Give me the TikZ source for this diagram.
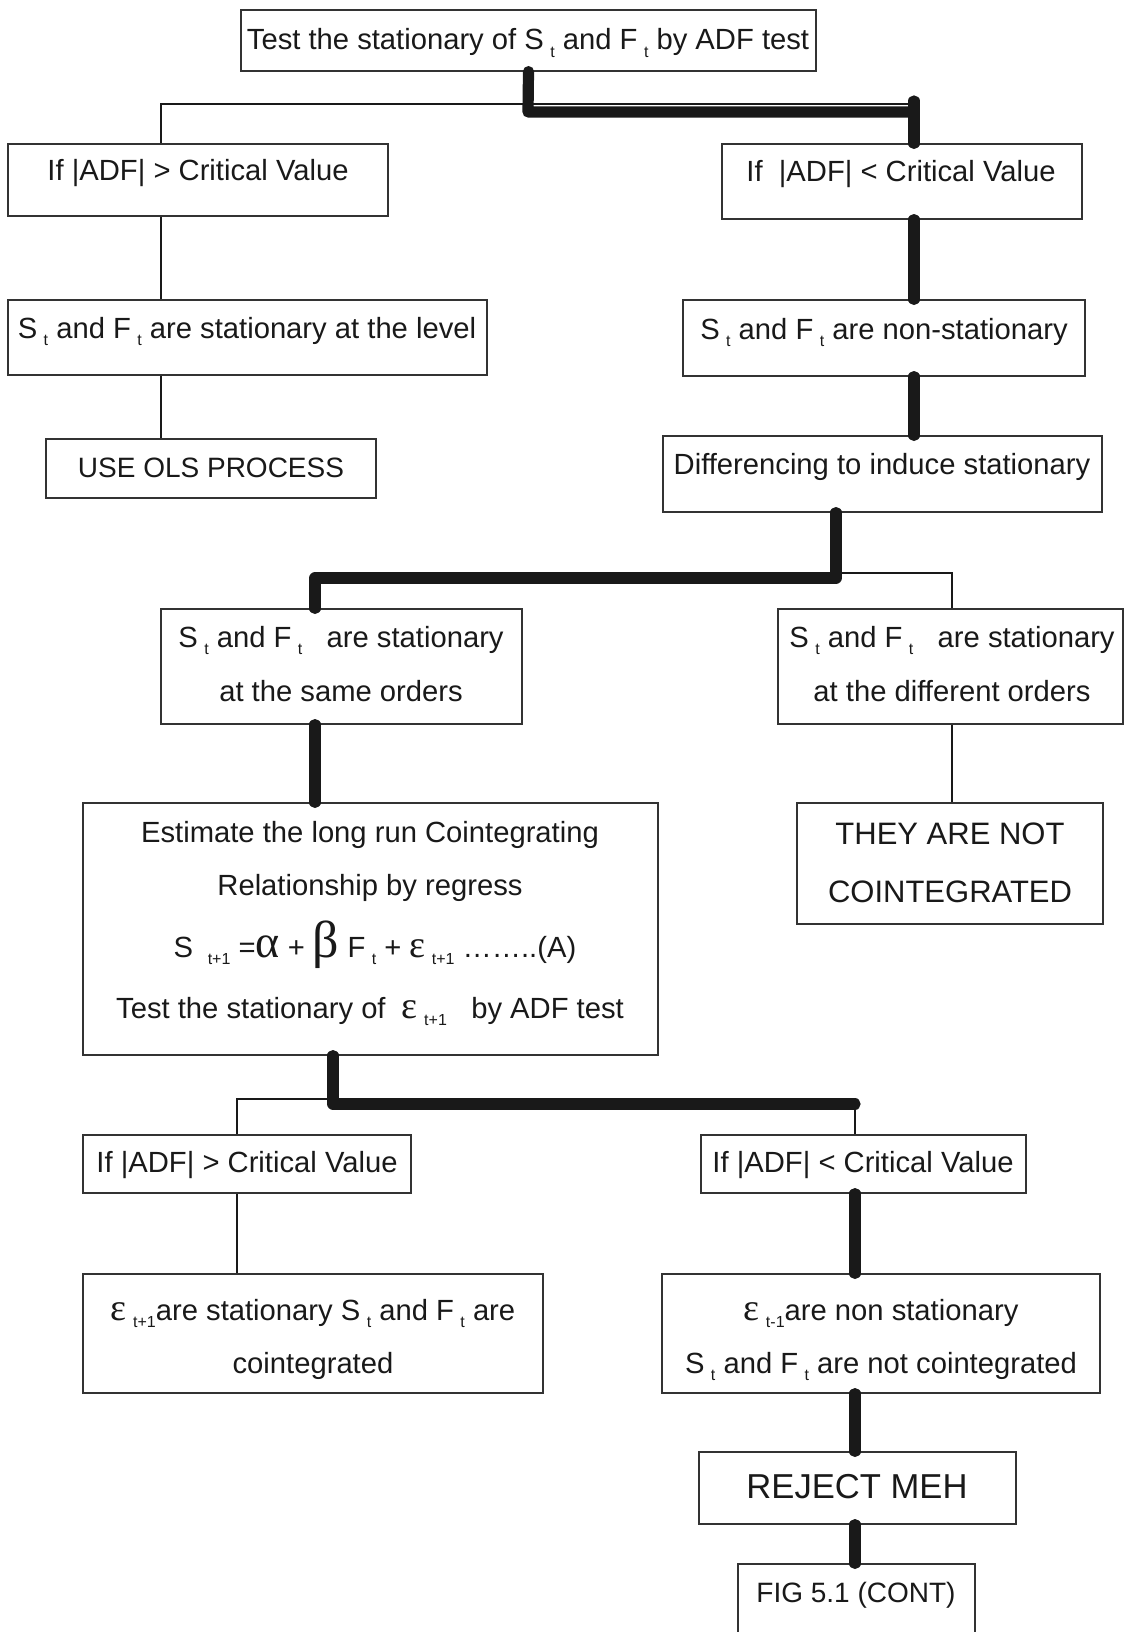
\documentclass[tikz,border=0pt]{standalone}
\usepackage{fontspec}
\setmainfont{Liberation Sans}
\newfontfamily\grk{Liberation Serif}
\usetikzlibrary{fit}
\newcommand\lowt[1]{\hspace{0.22em}\raisebox{-0.5ex}{\fontsize{8}{9}\selectfont #1}}
\newcommand\fsn{\fontsize{14.6}{17}\selectfont}
\tikzset{
  boxst/.style={draw=black!80, line width=0.6pt, inner sep=0pt, rectangle},
  txt/.style={anchor=base, inner sep=0pt, font=\fsn, text=black!90},
  thinline/.style={line width=1pt, draw=black!90},
  thickline/.style={line width=5.6pt, line cap=round, line join=round, draw=black!90}
}
\begin{document}
\begin{tikzpicture}[x=0.5pt,y=-0.5pt]
\fill[white] (0,0) rectangle (1125,1632);
\useasboundingbox (0,0) rectangle (1125,1632);

% boxes
\node[boxst, fit={(241,10) (816,71)}] (top) {};
\node[boxst, fit={(8,144) (388,216)}] (l1) {};
\node[boxst, fit={(722,144) (1082,219)}] (r1) {};
\node[boxst, fit={(8,300) (487,375)}] (l2) {};
\node[boxst, fit={(683,300) (1085,376)}] (r2) {};
\node[boxst, fit={(46,439) (376,498)}] (l3) {};
\node[boxst, fit={(663,436) (1102,512)}] (r3) {};
\node[boxst, fit={(161,609) (522,724)}] (ml) {};
\node[boxst, fit={(778,609) (1123,724)}] (mr) {};
\node[boxst, fit={(797,803) (1103,924)}] (they) {};
\node[boxst, fit={(83,803) (658,1055)}] (est) {};
\node[boxst, fit={(83,1135) (411,1193)}] (l4) {};
\node[boxst, fit={(701,1135) (1026,1193)}] (r4) {};
\node[boxst, fit={(83,1274) (543,1393)}] (l5) {};
\node[boxst, fit={(662,1274) (1100,1393)}] (r5) {};
\node[boxst, fit={(699,1452) (1016,1524)}] (rej) {};
\node[boxst, fit={(738,1564) (975,1645)}] (fig) {};

% texts
\node[txt] (ttop) at (528,50) {Test the stationary of S\lowt{t} and F\lowt{t} by ADF test};
\node[txt] (tl1) at (198,180) {If |ADF| > Critical Value};
\node[txt] (tr1) at (901,181) {If\ \ |ADF| < Critical Value};
\node[txt] (tl2) at (247,338) {S\lowt{t} and F\lowt{t} are stationary at the level};
\node[txt] (tr2) at (884,339) {S\lowt{t} and F\lowt{t} are non-stationary};
\node[txt, font=\fontsize{14}{17}\selectfont] (tl3) at (211,477) {USE OLS PROCESS};
\node[txt] (tr3) at (882,474) {Differencing to induce stationary};
\node[txt] (tml1) at (341,647) {S\lowt{t} and F\lowt{t}\ \ \ are stationary};
\node[txt] (tml2) at (341,701) {at the same orders};
\node[txt] (tmr1) at (952,647) {S\lowt{t} and F\lowt{t}\ \ \ are stationary};
\node[txt] (tmr2) at (952,701) {at the different orders};
\node[txt, font=\fontsize{15.5}{19}\selectfont] (tthey1) at (950,844) {THEY ARE NOT};
\node[txt, font=\fontsize{15.5}{19}\selectfont] (tthey2) at (950,902) {COINTEGRATED};
\node[txt] (test1) at (370,842) {Estimate the long run Cointegrating};
\node[txt] (test2) at (370,895) {Relationship by regress};
\node[txt] (test3) at (375,957) {S\ \lowt{t+1}\ ={\grk\fontsize{23}{23}\selectfont α} + {\grk\fontsize{26}{26}\selectfont β} F\lowt{t} + {\grk\fontsize{19}{19}\selectfont ε}\lowt{t+1}\ ……..(A)};
\node[txt] (test4) at (370,1018) {Test the stationary of\ \ {\grk\fontsize{19}{19}\selectfont ε}\lowt{t+1}\ \ \ by ADF test};
\node[txt] (tl4) at (247,1172) {If |ADF| > Critical Value};
\node[txt] (tr4) at (863,1172) {If |ADF| < Critical Value};
\node[txt] (tl5a) at (313,1320) {{\grk\fontsize{19}{19}\selectfont ε}\lowt{t+1}are stationary S\lowt{t} and F\lowt{t} are};
\node[txt] (tl5b) at (313,1373) {cointegrated};
\node[txt] (tr5a) at (881,1320) {{\grk\fontsize{19}{19}\selectfont ε}\lowt{t-1}are non stationary};
\node[txt] (tr5b) at (881,1373) {S\lowt{t} and F\lowt{t} are not cointegrated};
\node[txt, font=\fontsize{17.3}{20}\selectfont] (trej) at (857,1498) {REJECT MEH};
\node[txt, font=\fontsize{14}{17}\selectfont] (tfig) at (856,1602) {FIG 5.1 (CONT)};

% junction coordinates
\coordinate (a1) at (161,104);
\coordinate (a2) at (914,104);
\coordinate (b1) at (528,112);
\coordinate (b2) at (914,112);
\coordinate (b3) at (914,101);
\coordinate (c1) at (836,578);
\coordinate (c2) at (315,578);
\coordinate (d1) at (842,573);
\coordinate (d2) at (952,573);
\coordinate (e1) at (333,1104);
\coordinate (e2) at (855,1104);
\coordinate (f1) at (237,1099);
\coordinate (f2) at (333,1099);

% connectors
\draw[thinline] (a1 |- l1.north) -- (a1) -- (a2);
\draw[thickline] (top.south) -- (b1) -- (b2);
\draw[thickline] (b3) -- (b3 |- r1.north);
\draw[thinline] (a1 |- l1.south) -- (a1 |- l2.north);
\draw[thinline] (a1 |- l2.south) -- (a1 |- l3.north);
\draw[thickline] (b2 |- r1.south) -- (b2 |- r2.north);
\draw[thickline] (b2 |- r2.south) -- (b2 |- r3.north);
\draw[thickline] (c1 |- r3.south) -- (c1) -- (c2) -- (c2 |- ml.north);
\draw[thinline] (d1) -- (d2) -- (d2 |- mr.north);
\draw[thickline] (c2 |- ml.south) -- (c2 |- est.north);
\draw[thinline] (d2 |- mr.south) -- (d2 |- they.north);
\draw[thickline] (e1 |- est.south) -- (e1) -- (e2);
\draw[thinline] (f1 |- l4.north) -- (f1) -- (f2);
\draw[thinline] (e2) -- (e2 |- r4.north);
\draw[thinline] (f1 |- l4.south) -- (f1 |- l5.north);
\draw[thickline] (e2 |- r4.south) -- (e2 |- r5.north);
\draw[thickline] (e2 |- r5.south) -- (e2 |- rej.north);
\draw[thickline] (e2 |- rej.south) -- (e2 |- fig.north);
\end{tikzpicture}
\end{document}
